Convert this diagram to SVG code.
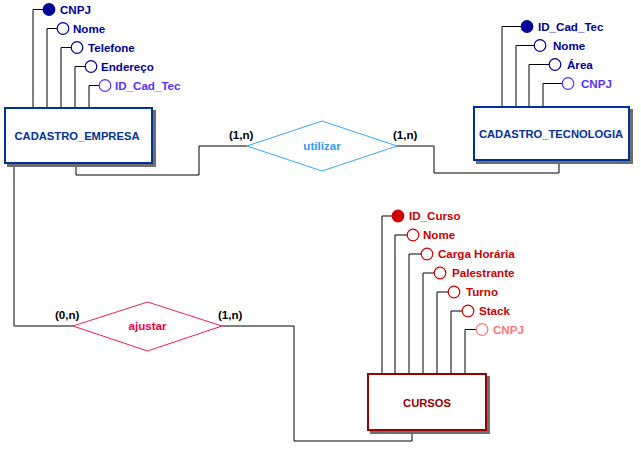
<svg xmlns="http://www.w3.org/2000/svg" width="641" height="452" viewBox="0 0 641 452">
<style>
text{font-family:"Liberation Sans",Arial,sans-serif;font-weight:bold;font-size:11.6px}
.ln{fill:none;stroke:#000;stroke-width:1}
.shadow{fill:#6e6e6e}
.bb{fill:#fff;stroke:#003399;stroke-width:2}
.rb{fill:#fff;stroke:#990000;stroke-width:2}
.bt{fill:#003399;font-size:11.2px}
.rt{fill:#990000;font-size:11.2px}
.ba{fill:#000099}
.bc{fill:#fff;stroke:#000099;stroke-width:1.2}
.bk{fill:#000099;stroke:#000099;stroke-width:1.2}
.bf{fill:#fff;stroke:#5533ff;stroke-width:1.2}
.bft{fill:#5533ff}
.ra{fill:#cc0000}
.rc{fill:#fff;stroke:#cc0000;stroke-width:1.2}
.rk{fill:#cc0000;stroke:#cc0000;stroke-width:1.2}
.rf{fill:#fff;stroke:#ff7777;stroke-width:1.2}
.rft{fill:#ff7777}
.card{fill:#000}
</style>
<rect width="641" height="452" fill="#fff"/>
<g id="connectors">
<polyline class="ln" points="76,164 76,175 199,175 199,146 247,146"/>
<polyline class="ln" points="397,146 434,146 434,173 559,173 559,162"/>
<polyline class="ln" points="14,164 14,326 73,326"/>
<polyline class="ln" points="222,326 294,326 294,441 412,441 412,431"/>
</g>
<g id="cadastro_empresa">
<polyline class="ln" points="33,107 33,9.5 43,9.5"/>
<polyline class="ln" points="47,107 47,28.5 57,28.5"/>
<polyline class="ln" points="61,107 61,47.5 71,47.5"/>
<polyline class="ln" points="75,107 75,66.5 85,66.5"/>
<polyline class="ln" points="89,107 89,85.5 99,85.5"/>
<circle class="bk" cx="49" cy="9.5" r="5.8"/>
<circle class="bc" cx="63" cy="28.5" r="5.8"/>
<circle class="bc" cx="77" cy="47.5" r="5.8"/>
<circle class="bc" cx="91" cy="66.5" r="5.8"/>
<circle class="bf" cx="105" cy="85.5" r="5.8"/>
<text class="ba" x="60" y="13.5">CNPJ</text>
<text class="ba" x="73" y="32.5">Nome</text>
<text class="ba" x="88" y="51.5">Telefone</text>
<text class="ba" x="101" y="70.5">Endereço</text>
<text class="bft" x="115" y="89.5">ID_Cad_Tec</text>
<rect class="shadow" x="7" y="110" width="149" height="57"/>
<rect class="bb" x="5" y="108" width="147" height="55"/>
<text class="bt" x="77" y="140" text-anchor="middle">CADASTRO_EMPRESA</text>
</g>
<g id="cadastro_tecnologia">
<polyline class="ln" points="502,106 502,26.5 521,26.5"/>
<polyline class="ln" points="516,106 516,45.5 534,45.5"/>
<polyline class="ln" points="529,106 529,64.5 549,64.5"/>
<polyline class="ln" points="543,106 543,83.5 562,83.5"/>
<circle class="bk" cx="527" cy="26.5" r="5.8"/>
<circle class="bc" cx="540" cy="45.5" r="5.8"/>
<circle class="bc" cx="555" cy="64.5" r="5.8"/>
<circle class="bf" cx="568" cy="83.5" r="5.8"/>
<text class="ba" x="538" y="30.5">ID_Cad_Tec</text>
<text class="ba" x="553" y="49.5">Nome</text>
<text class="ba" x="567" y="68.5">Área</text>
<text class="bft" x="581" y="87.5">CNPJ</text>
<rect class="shadow" x="476" y="109" width="157" height="55"/>
<rect class="bb" x="474" y="107" width="155" height="53"/>
<text class="bt" x="551" y="138" text-anchor="middle">CADASTRO_TECNOLOGIA</text>
</g>
<g id="cursos">
<polyline class="ln" points="382,373 382,216 392,216"/>
<polyline class="ln" points="395,373 395,235 407,235"/>
<polyline class="ln" points="409,373 409,254 421,254"/>
<polyline class="ln" points="423,373 423,273 434,273"/>
<polyline class="ln" points="437,373 437,292 448,292"/>
<polyline class="ln" points="451,373 451,311 462,311"/>
<polyline class="ln" points="465,373 465,329.5 476,329.5"/>
<circle class="rk" cx="398" cy="216" r="5.8"/>
<circle class="rc" cx="413" cy="235" r="5.8"/>
<circle class="rc" cx="427" cy="254" r="5.8"/>
<circle class="rc" cx="440" cy="273" r="5.8"/>
<circle class="rc" cx="454" cy="292" r="5.8"/>
<circle class="rc" cx="468" cy="311" r="5.8"/>
<circle class="rf" cx="482" cy="329.5" r="5.8"/>
<text class="ra" x="409" y="220">ID_Curso</text>
<text class="ra" x="423" y="239">Nome</text>
<text class="ra" x="438" y="258">Carga Horária</text>
<text class="ra" x="452" y="277">Palestrante</text>
<text class="ra" x="466" y="296">Turno</text>
<text class="ra" x="479" y="315">Stack</text>
<text class="rft" x="493" y="333.5">CNPJ</text>
<rect class="shadow" x="370" y="376" width="120" height="58"/>
<rect class="rb" x="368" y="374" width="118" height="56"/>
<text class="rt" x="427" y="407" text-anchor="middle">CURSOS</text>
</g>
<g id="utilizar">
<polygon points="247,146 322,121 397,146 322,171" fill="#fff" stroke="#33aaff" stroke-width="1"/>
<text x="322" y="150" text-anchor="middle" fill="#3399ff">utilizar</text>
<text class="card" x="229" y="139">(1,n)</text>
<text class="card" x="393" y="139">(1,n)</text>
</g>
<g id="ajustar">
<polygon points="73,326 147.5,302 222,326 147.5,351" fill="#fff" stroke="#ee2255" stroke-width="1"/>
<text x="147.5" y="330" text-anchor="middle" fill="#ee0044">ajustar</text>
<text class="card" x="55" y="319">(0,n)</text>
<text class="card" x="218" y="319">(1,n)</text>
</g>
</svg>
